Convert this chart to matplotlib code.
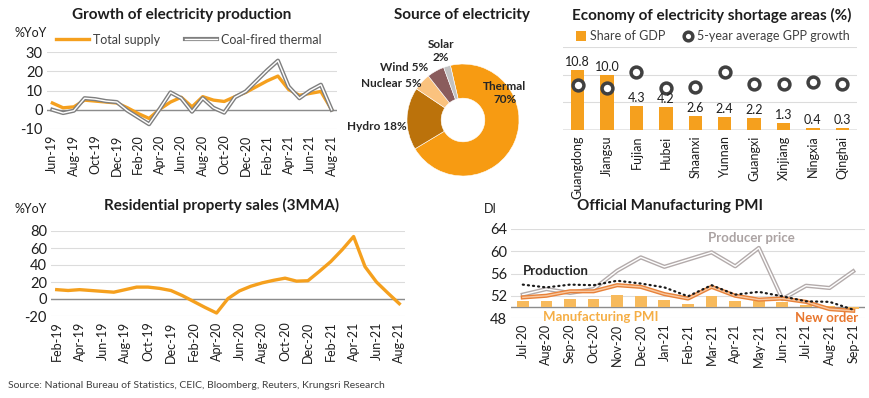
import matplotlib
matplotlib.use("Agg")
import matplotlib.pyplot as plt
import matplotlib.patheffects as pe
import numpy as np

plt.rcParams['font.family'] = ['Lato', 'DejaVu Sans']
plt.rcParams['axes.unicode_minus'] = False

# --- data -------------------------------------------------------------
# Growth of electricity production (%YoY), Jun-19 .. Aug-21
elec_ticks = ['Jun-19', 'Aug-19', 'Oct-19', 'Dec-19', 'Feb-20', 'Apr-20', 'Jun-20',
              'Aug-20', 'Oct-20', 'Dec-20', 'Feb-21', 'Apr-21', 'Jun-21', 'Aug-21']
total_supply = [3.5, 1.0, 1.5, 5.0, 4.5, 4.0, 3.5, 1.0, -2.0, -4.5, 0.3, 4.0, 6.5, 1.5,
                6.8, 5.0, 4.3, 6.8, 9.0, 12.0, 15.0, 17.5, 10.5, 7.5, 8.5, 9.5, 0.0]
coal_fired = [0.0, -1.7, -0.5, 6.0, 5.5, 4.5, 4.0, -0.5, -4.0, -7.5, 0.5, 9.0, 6.0, -1.0,
              6.0, 1.0, -1.5, 6.5, 9.5, 15.0, 20.5, 25.5, 12.0, 6.0, 10.0, 13.0, 0.0]

# Source of electricity (%)
sources = ['Thermal', 'Hydro', 'Nuclear', 'Wind', 'Solar']
source_share = [70, 18, 5, 5, 2]

# Economy of electricity shortage areas (%)
provinces = ['Guangdong', 'Jiangsu', 'Fujian', 'Hubei', 'Shaanxi', 'Yunnan',
             'Guangxi', 'Xinjiang', 'Ningxia', 'Qinghai']
gdp_share = [10.8, 10.0, 4.3, 4.2, 2.6, 2.4, 2.2, 1.3, 0.4, 0.3]
gpp_growth = [8.1, 7.6, 10.4, 7.6, 7.7, 10.4, 8.4, 8.4, 8.7, 8.4]

# Residential property sales 3MMA (%YoY), Feb-19 .. Aug-21
prop_ticks = ['Feb-19', 'Apr-19', 'Jun-19', 'Aug-19', 'Oct-19', 'Dec-19', 'Feb-20', 'Apr-20',
              'Jun-20', 'Aug-20', 'Oct-20', 'Dec-20', 'Feb-21', 'Apr-21', 'Jun-21', 'Aug-21']
prop_sales = [11, 10, 11, 10, 9, 8, 11, 14, 14, 12.5, 10, 4, -3, -10, -16.5, 0.5,
              9.5, 15, 19, 22, 24.5, 21, 21.5, 32.5, 44, 58, 73.5, 38, 20, 7, -5.5]

# Official manufacturing PMI
pmi_months = ['Jul-20', 'Aug-20', 'Sep-20', 'Oct-20', 'Nov-20', 'Dec-20', 'Jan-21', 'Feb-21',
              'Mar-21', 'Apr-21', 'May-21', 'Jun-21', 'Jul-21', 'Aug-21', 'Sep-21']
pmi = [51.1, 51.0, 51.5, 51.4, 52.1, 51.9, 51.3, 50.6, 51.9, 51.1, 51.0, 50.9, 50.4, 50.1, 49.6]
new_order = [51.7, 52.0, 52.8, 52.8, 53.9, 53.6, 52.3, 51.5, 53.6, 52.0, 51.3, 51.5, 50.9, 49.6, 49.3]
production = [54.0, 53.5, 54.0, 53.9, 54.7, 54.2, 53.5, 51.9, 53.9, 52.2, 52.7, 51.9, 51.0, 50.9, 49.5]
producer_price = [52.2, 53.2, 52.5, 53.2, 56.5, 58.9, 57.2, 58.5, 59.8, 57.3, 60.6, 51.4, 53.8, 53.4, 56.4]

# --- styling ---------------------------------------------------------
ORANGE = '#F5A01E'
GRID = '#DCDCDC'
AXLINE = '#8C8C8C'
TXT = '#1E1E1E'

W, H = 870, 398
fig = plt.figure(figsize=(W / 100, H / 100), dpi=100)


def rect(l, t, r, b):
    return [l / W, 1 - b / H, (r - l) / W, (b - t) / H]


def base_style(ax, yticks, zero):
    for s in ax.spines.values():
        s.set_visible(False)
    ax.set_yticks(yticks)
    ax.set_ylim(yticks[0], yticks[-1])
    ax.grid(axis='y', color=GRID, linewidth=0.8)
    ax.set_axisbelow(True)
    ax.axhline(zero, color=AXLINE, linewidth=1.0, zorder=1.5)
    ax.tick_params(length=0, colors=TXT, labelsize=10.5, pad=3)
    ax.tick_params(axis='x', labelsize=9, rotation=90, pad=4)


def double(color, width):
    return [pe.Stroke(linewidth=width, foreground=color), pe.Normal()]


# --- Growth of electricity production --------------------------------
ax1 = fig.add_axes(rect(47, 52, 337, 129))
x1 = np.arange(len(total_supply))
ax1.plot(x1, total_supply, color=ORANGE, linewidth=2.4, label='Total supply', zorder=3)
ax1.plot(x1, coal_fired, color='white', linewidth=1.0, label='Coal-fired thermal', zorder=4,
         path_effects=double('#7F7F7F', 3.0))
base_style(ax1, [-10, 0, 10, 20, 30], 0)
ax1.set_xlim(-0.5, len(x1) - 0.5)
ax1.set_xticks(x1[::2])
ax1.set_xticklabels(elec_ticks)
ax1.legend(loc='center', bbox_to_anchor=(0.49, 1.16), ncol=2, frameon=False, fontsize=9,
           handlelength=2.6, columnspacing=2.0, handletextpad=0.3, labelcolor='#404040')
fig.text(182 / W, 1 - 15 / H, 'Growth of electricity production', ha='center', va='center',
         fontsize=11, fontweight='bold', color=TXT)
fig.text(15 / W, 1 - 33 / H, '%YoY', ha='left', va='center', fontsize=9, color=TXT)

# --- Source of electricity -------------------------------------------
R = 56
axp = fig.add_axes(rect(463 - 100, 120 - 100, 463 + 100, 120 + 100))
pie_colors = ['#F79B12', '#BB720B', '#FAC27E', '#8A5C5C', '#C2C2C2']
axp.pie(source_share, colors=pie_colors, startangle=103, counterclock=False,
        wedgeprops=dict(width=0.61, edgecolor='white', linewidth=0.4))
axp.set_xlim(-100 / R, 100 / R)
axp.set_ylim(-100 / R, 100 / R)
axp.set_aspect('equal')
axp.axis('off')
lab_kw = dict(fontsize=8.5, fontweight='bold', color='#262626', va='center')
axp.text(0.75, 0.48, f'{sources[0]}\n{source_share[0]}%', ha='center', linespacing=1.2, **lab_kw)
axp.text(-1.0, -0.125, f'{sources[1]} {source_share[1]}%', ha='right', **lab_kw)
axp.text(-0.73, 0.66, f'{sources[2]} {source_share[2]}%', ha='right', **lab_kw)
axp.text(-0.625, 0.93, f'{sources[3]} {source_share[3]}%', ha='right', **lab_kw)
axp.text(-0.39, 1.23, f'{sources[4]}\n{source_share[4]}%', ha='center', linespacing=1.2, **lab_kw)
fig.text(462 / W, 1 - 15 / H, 'Source of electricity', ha='center', va='center',
         fontsize=11, fontweight='bold', color=TXT)

# --- Economy of electricity shortage areas ---------------------------
ax3 = fig.add_axes(rect(563, 47, 857, 130))
x3 = np.arange(len(provinces))
bars = ax3.bar(x3, gdp_share, width=0.45, color=ORANGE, zorder=2, label='Share of GDP')
dots, = ax3.plot(x3, gpp_growth, linestyle='none', marker='o', markersize=7.8,
                 markerfacecolor='white', markeredgecolor='#404040', markeredgewidth=2.5,
                 zorder=3, label='5-year average GPP growth')
for b, v in zip(bars, gdp_share):
    ax3.annotate(f'{v:.1f}', (b.get_x() + b.get_width() / 2, v), xytext=(0, 1.5),
                 textcoords='offset points', ha='center', va='bottom', fontsize=9, color=TXT)
base_style(ax3, [0, 5, 10, 15], 0)
ax3.set_yticklabels([])
ax3.set_xlim(-0.5, len(x3) - 0.5)
ax3.set_xticks(x3)
ax3.set_xticklabels(provinces)
ax3.legend(handles=[bars, dots], loc='center', bbox_to_anchor=(0.51, 1.13), ncol=2,
           frameon=False, fontsize=9, handlelength=0.8, handletextpad=0.3, columnspacing=1.4,
           labelcolor='#404040', handleheight=0.8, markerscale=0.8)
fig.text(712 / W, 1 - 15 / H, 'Economy of electricity shortage areas (%)', ha='center',
         va='center', fontsize=11, fontweight='bold', color=TXT)

# --- Residential property sales --------------------------------------
ax4 = fig.add_axes(rect(51, 231, 405, 316))
x4 = np.arange(len(prop_sales))
ax4.plot(x4, prop_sales, color=ORANGE, linewidth=2.4, zorder=3)
base_style(ax4, [-20, 0, 20, 40, 60, 80], 0)
ax4.set_xlim(-0.5, len(x4) - 0.5)
ax4.set_xticks(x4[::2])
ax4.set_xticklabels(prop_ticks)
fig.text(222 / W, 1 - 205 / H, 'Residential property sales (3MMA)', ha='center', va='center',
         fontsize=11, fontweight='bold', color=TXT)
fig.text(15 / W, 1 - 209 / H, '%YoY', ha='left', va='center', fontsize=9, color=TXT)

# --- Official Manufacturing PMI --------------------------------------
ax5 = fig.add_axes(rect(511, 229, 865, 318))
x5 = np.arange(len(pmi))
ax5.bar(x5, np.array(pmi) - 50, bottom=50, width=0.5, color='#F7BA5C', zorder=2)
ax5.plot(x5, producer_price, color='white', linewidth=1.0, zorder=3,
         path_effects=double('#B3ABAB', 3.0))
ax5.plot(x5, new_order, color='#F9C8A0', linewidth=1.0, zorder=4,
         path_effects=double('#E8823A', 3.0))
ax5.plot(x5, production, color='#1A1A1A', linewidth=1.6, linestyle=(0, (0.5, 1.8)),
         dash_capstyle='round', zorder=5)
base_style(ax5, [48, 52, 56, 60, 64], 50)
ax5.set_xlim(-0.5, len(x5) - 0.5)
ax5.set_xticks(x5)
ax5.set_xticklabels(pmi_months)
ann = dict(fontsize=9.5, fontweight='bold', ha='center', va='center')
ax5.text(9.67, 62.4, 'Producer price', color='#ABA3A3', **ann)
ax5.text(1.4, 56.4, 'Production', color='#262626', **ann)
ax5.text(3.3, 48.1, 'Manufacturing PMI', color='#F5AE45', **ann)
ax5.text(12.86, 48.0, 'New order', color='#E8772E', **ann)
fig.text(670 / W, 1 - 206 / H, 'Official Manufacturing PMI', ha='center', va='center',
         fontsize=11, fontweight='bold', color=TXT)
fig.text(484 / W, 1 - 209 / H, 'DI', ha='left', va='center', fontsize=9, color=TXT)

fig.text(8 / W, 1 - 385 / H,
         'Source: National Bureau of Statistics, CEIC, Bloomberg, Reuters, Krungsri Research',
         ha='left', va='center', fontsize=7.5, color='#404040')

fig.savefig('out.png', dpi=100)
